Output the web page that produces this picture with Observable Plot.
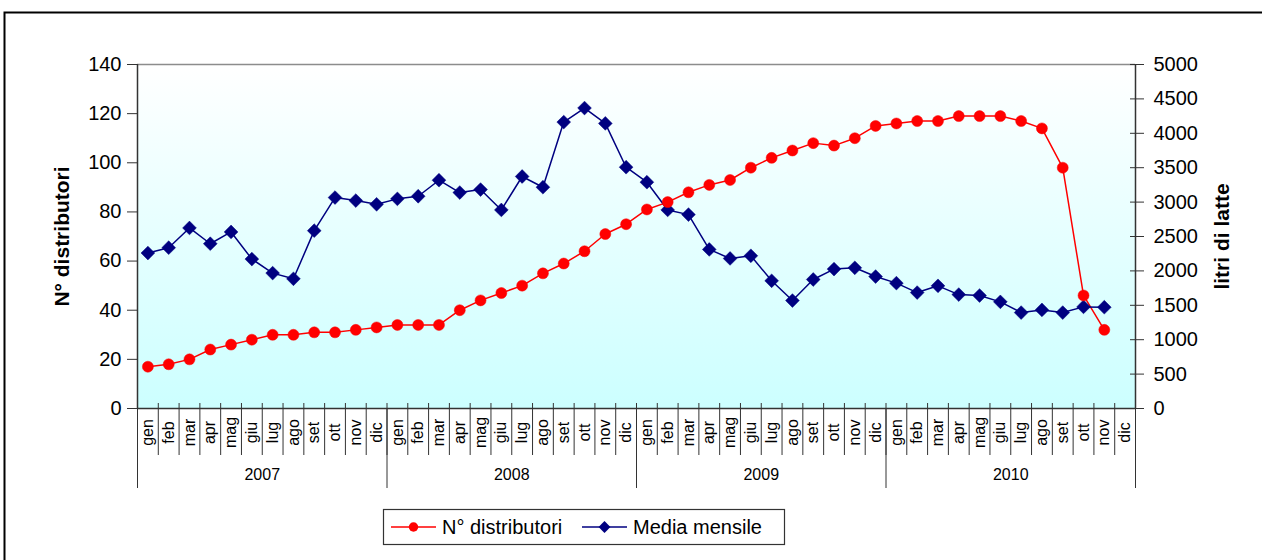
<!DOCTYPE html>
<html>
<head>
<meta charset="utf-8">
<script src="https://cdn.jsdelivr.net/npm/d3@7"></script>
<script src="https://cdn.jsdelivr.net/npm/@observablehq/plot@0.6"></script>
<style>
  html, body { margin: 0; padding: 0; background: #fff; }
  #chart { position: relative; width: 1262px; height: 560px; overflow: hidden; }
  svg { font-family: "Liberation Sans", Arial, sans-serif; }
</style>
</head>
<body>
<div id="chart"></div>
<script>
const months = ["gen","feb","mar","apr","mag","giu","lug","ago","set","ott","nov","dic"];
const years = ["2007","2008","2009","2010"];
// N° distributori (left axis), gen 2007 – nov 2010
const distributori = [
  17, 18, 20, 24, 26, 28, 30, 30, 31, 31, 32, 33,
  34, 34, 34, 40, 44, 47, 50, 55, 59, 64, 71, 75,
  81, 84, 88, 91, 93, 98, 102, 105, 108, 107, 110, 115,
  116, 117, 117, 119, 119, 119, 117, 114, 98, 46, 32
];
// Media mensile, litri di latte (right axis), gen 2007 – nov 2010
const mediaMensile = [
  2260, 2337, 2624, 2395, 2566, 2172, 1968, 1885, 2585, 3066, 3022, 2968,
  3047, 3085, 3318, 3139, 3182, 2886, 3372, 3216, 4163, 4367, 4144, 3507,
  3289, 2886, 2818, 2312, 2181, 2220, 1856, 1569, 1875, 2026, 2045, 1918,
  1822, 1685, 1783, 1656, 1642, 1550, 1394, 1433, 1394, 1477, 1472
];
const leftTicks = [0, 20, 40, 60, 80, 100, 120, 140];
const rightTicks = [0, 500, 1000, 1500, 2000, 2500, 3000, 3500, 4000, 4500, 5000];
const leftMax = 140, rightMax = 5000;
const k = leftMax / rightMax;

const nMonths = years.length * months.length;
const monthCells = d3.range(nMonths).map(i => ({i, m: months[i % 12]}));
const yearCells = years.map((y, j) => ({j, y}));
const redData = distributori.map((v, i) => ({i, v}));
const blueData = mediaMensile.map((v, i) => ({i, v: v * k}));
const boundaries = d3.range(nMonths + 1);
const yearBounds = d3.range(years.length + 1).map(j => j * 12);

const axisColor = "#333";

const svg = Plot.plot({
  width: 1262,
  height: 560,
  marginLeft: 137,
  marginRight: 127,
  marginTop: 64,
  marginBottom: 152,
  style: {background: "transparent", fontFamily: "'Liberation Sans', Arial, sans-serif", color: "#000"},
  x: {domain: [0, nMonths], axis: null},
  y: {domain: [0, leftMax], axis: null},
  marks: [
    Plot.frame({fill: "url(#plotBg)", stroke: null}),
    Plot.ruleY([leftMax], {stroke: "#8c8c8c", strokeWidth: 1.5}),
    // left axis
    Plot.axisY({ticks: leftTicks, anchor: "left", tickSize: 10, tickPadding: 6, fontSize: 20, label: null, stroke: axisColor, fill: "#000"}),
    // right axis
    Plot.axisY({ticks: rightTicks.map(v => v * k), anchor: "right", tickSize: 8, tickPadding: 10, fontSize: 20, label: null,
      tickFormat: d => String(Math.round(d / k)), stroke: axisColor, fill: "#000"}),
    Plot.axisY({ticks: rightTicks.map(v => v * k), anchor: "right", tickSize: -6, tickFormat: () => "", label: null, stroke: axisColor}),
    // month separators
    Plot.axisX({ticks: boundaries, anchor: "bottom", tickSize: 47, tickFormat: () => "", label: null, stroke: axisColor}),
    Plot.axisX({ticks: boundaries, anchor: "bottom", tickSize: -5, tickFormat: () => "", label: null, stroke: axisColor}),
    // year separators
    Plot.axisX({ticks: yearBounds, anchor: "bottom", tickSize: 80, tickFormat: () => "", label: null, stroke: axisColor}),
    // month labels
    Plot.text(monthCells, {x: d => d.i + 0.5, text: "m", frameAnchor: "bottom", dy: 24, rotate: -90,
      textAnchor: "middle", lineAnchor: "middle", fontSize: 16, fill: "#000"}),
    // year labels
    Plot.text(yearCells, {x: d => d.j * 12 + 6, text: "y", frameAnchor: "bottom", dy: 66,
      textAnchor: "middle", lineAnchor: "middle", fontSize: 16, fill: "#000"}),
    // axis titles
    Plot.text(["N° distributori"], {frameAnchor: "left", dx: -75, rotate: -90, fontSize: 21, fontWeight: "bold", textAnchor: "middle", lineAnchor: "middle", fill: "#000"}),
    Plot.text(["litri di latte"], {frameAnchor: "right", dx: 87, rotate: -90, fontSize: 21, fontWeight: "bold", textAnchor: "middle", lineAnchor: "middle", fill: "#000"}),
    // axis lines
    Plot.ruleX([0], {stroke: axisColor, strokeWidth: 1.5}),
    Plot.ruleX([nMonths], {stroke: axisColor, strokeWidth: 1.5}),
    Plot.ruleY([0], {stroke: axisColor, strokeWidth: 1.5}),
    // series
    Plot.line(redData, {x: d => d.i + 0.5, y: "v", stroke: "#ff0000", strokeWidth: 1.5}),
    Plot.line(blueData, {x: d => d.i + 0.5, y: "v", stroke: "#000080", strokeWidth: 1.5}),
    Plot.dot(blueData, {x: d => d.i + 0.5, y: "v", symbol: "diamond2", r: 6.2, fill: "#000080", stroke: "#000080", strokeWidth: 0.5}),
    Plot.dot(redData, {x: d => d.i + 0.5, y: "v", r: 5.5, fill: "#ff0000", stroke: "#ff0000", strokeWidth: 0.5})
  ]
});

const s = d3.select(svg);
const grad = s.insert("defs", ":first-child").append("linearGradient")
  .attr("id", "plotBg").attr("x1", 0).attr("y1", 0).attr("x2", 0).attr("y2", 1);
grad.append("stop").attr("offset", "0%").attr("stop-color", "#ffffff");
grad.append("stop").attr("offset", "100%").attr("stop-color", "#ccffff");

// outer chart border
s.append("rect").attr("x", 4.5).attr("y", 12.5).attr("width", 1300).attr("height", 600)
  .attr("fill", "none").attr("stroke", "#000").attr("stroke-width", 2);

// legend
const lg = s.append("g").attr("font-size", 20).attr("fill", "#000").attr("text-anchor", "start");
lg.append("rect").attr("x", 383.5).attr("y", 509.5).attr("width", 401).attr("height", 35)
  .attr("fill", "#fff").attr("stroke", "#333").attr("stroke-width", 1.2);
const items = [
  {label: "N° distributori", color: "#ff0000", sym: d3.symbolCircle, size: 70, x: 391},
  {label: "Media mensile", color: "#000080", sym: d3.symbolDiamond2, size: 90, x: 582}
];
items.forEach(it => {
  lg.append("line").attr("x1", it.x).attr("x2", it.x + 45).attr("y1", 527).attr("y2", 527)
    .attr("stroke", it.color).attr("stroke-width", 1.5);
  lg.append("path").attr("d", d3.symbol(it.sym, it.size)()).attr("transform", `translate(${it.x + 22.5},527)`)
    .attr("fill", it.color);
  lg.append("text").attr("x", it.x + 51).attr("y", 534).attr("text-anchor", "start").text(it.label);
});

document.getElementById("chart").appendChild(svg);
</script>
</body>
</html>
